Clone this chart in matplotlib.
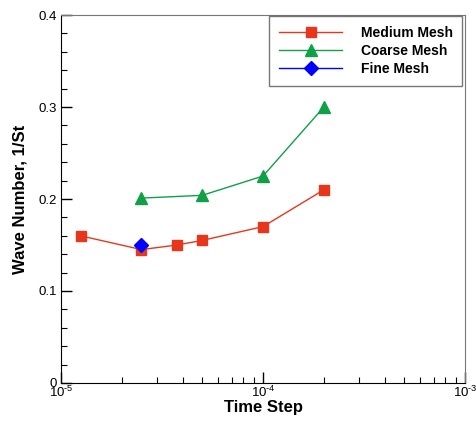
import matplotlib
matplotlib.use("Agg")
import matplotlib.pyplot as plt
from matplotlib.ticker import FixedLocator, LogLocator, NullFormatter, FixedFormatter, MultipleLocator

plt.rcParams['font.family'] = ['Liberation Sans', 'DejaVu Sans']
plt.rcParams['mathtext.fontset'] = 'custom'
plt.rcParams['mathtext.rm'] = 'Liberation Sans'

# data
medium_dt = [1.25e-5, 2.5e-5, 3.75e-5, 5e-5, 1e-4, 2e-4]
medium_k = [0.160, 0.145, 0.150, 0.155, 0.170, 0.210]
coarse_dt = [2.5e-5, 5e-5, 1e-4, 2e-4]
coarse_k = [0.201, 0.204, 0.225, 0.300]
fine_dt = [2.5e-5]
fine_k = [0.150]

yticks = [0, 0.1, 0.2, 0.3, 0.4]
ylabels = ['0', '0.1', '0.2', '0.3', '0.4']
xticks = [1e-5, 1e-4, 1e-3]
xlabels = ['10$^{\\text{-}5}$', '10$^{\\text{-}4}$', '10$^{\\text{-}3}$']

fig = plt.figure(figsize=(4.77, 4.21), dpi=100)
ax = fig.add_axes([0.128, 0.0903, 0.847, 0.874])

ax.plot(medium_dt, medium_k, '-s', color='#e8361c', lw=1, ms=7, label='Medium Mesh')
ax.plot(coarse_dt, coarse_k, '-^', color='#10a048', lw=1, ms=8, label='Coarse Mesh')
ax.plot(fine_dt, fine_k, '-D', color='#0000ff', lw=1, ms=7, label='Fine Mesh')

ax.set_xscale('log')
ax.set_xlim(1e-5, 1e-3)
ax.set_ylim(0, 0.4)
ax.xaxis.set_major_locator(FixedLocator(xticks))
ax.xaxis.set_major_formatter(FixedFormatter(xlabels))
ax.xaxis.set_minor_locator(LogLocator(base=10, subs=range(2, 10)))
ax.xaxis.set_minor_formatter(NullFormatter())
ax.yaxis.set_major_locator(FixedLocator(yticks))
ax.yaxis.set_major_formatter(FixedFormatter(ylabels))
ax.yaxis.set_minor_locator(MultipleLocator(0.02))

ax.tick_params(which='both', direction='in', top=False, right=False, labelsize=9.5)
ax.tick_params(axis='x', pad=1)
ax.tick_params(axis='y', pad=3)
ax.tick_params(which='major', length=8, width=1)
ax.tick_params(which='minor', length=4, width=0.8)
ax.spines['right'].set_color('#777777')
ax.spines['top'].set_color('#777777')

ax.set_xlabel('Time Step', fontsize=12, fontweight='bold', labelpad=0)
ax.set_ylabel('Wave Number, 1/St', fontsize=12, fontweight='bold', labelpad=8)

leg = ax.legend(loc='upper right', bbox_to_anchor=(0.993, 0.997), borderaxespad=0,
                fontsize=10, frameon=True, fancybox=False, edgecolor='#555555',
                handlelength=4.6, borderpad=0.7, labelspacing=0.3, handletextpad=1.3)
leg.get_frame().set_linewidth(1)
for t in leg.get_texts():
    t.set_fontweight('bold')

fig.savefig('out.png', dpi=100)
